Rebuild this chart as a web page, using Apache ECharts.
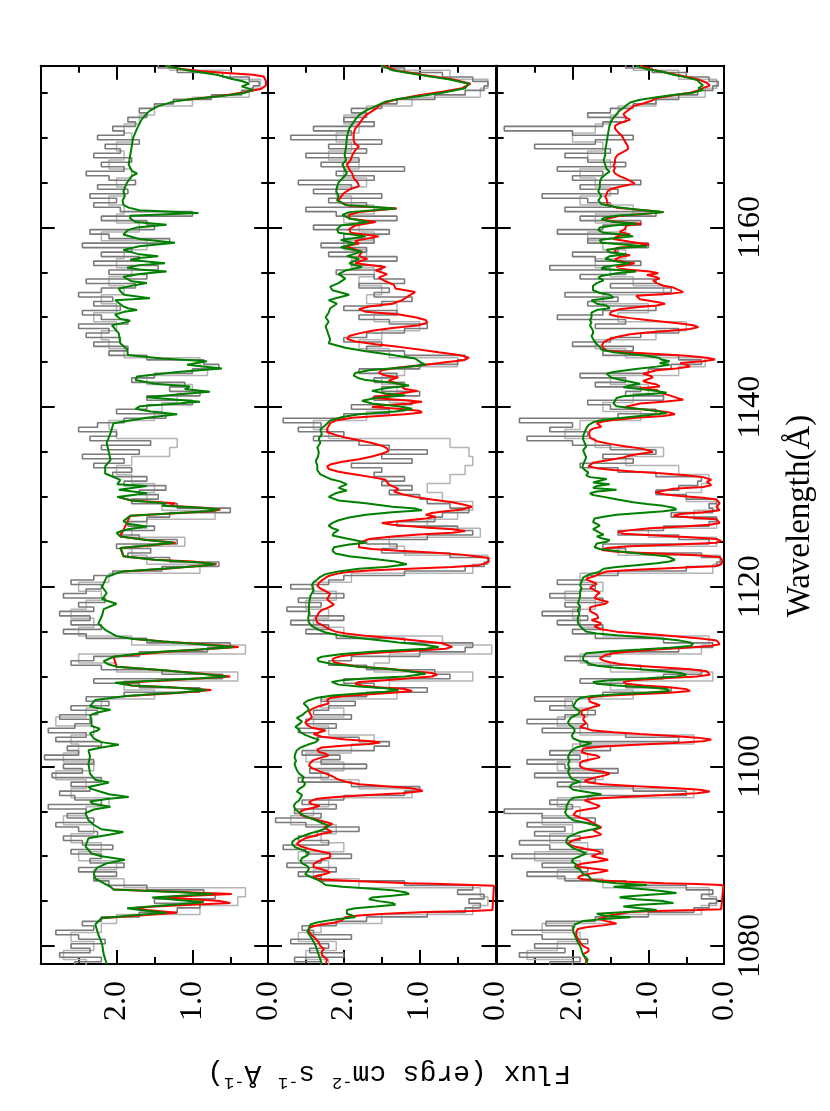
<!DOCTYPE html>
<html>
<head>
<meta charset="utf-8">
<script src="https://cdn.jsdelivr.net/npm/echarts@6/dist/echarts.min.js"></script>
<style>
html, body { margin: 0; padding: 0; background: #fff; }
#chart { width: 830px; height: 1111px; }
</style>
</head>
<body>
<div id="chart"></div>
<script>
// wavelength ticks (Å)
const waveMajor = [1080, 1100, 1120, 1140, 1160];
const waveMinor = [1085, 1090, 1095, 1105, 1110, 1115, 1125, 1130, 1135, 1145, 1150, 1155, 1165, 1170, 1175];

// observed spectra: dark grey bins every 0.5 Å from 1078, light grey bins every 1 Å from 1078
const obsStart = 1078;
const darkStep = 0.5;
const lightStep = 1;

const obsDark1 = [
  2.55, 2.2, 2.75, 2.35, 2.6, 2.15, 2.5, 2.8, 2.3, 2.45,
  2.2, 1.7, 1.2, 0.9, 1.5, 0.7, 0.85, 1.6, 2.1, 2.3,
  2.0, 2.5, 1.9, 2.35, 2.2, 2.6, 2.05, 2.45, 2.7, 2.25,
  2.5, 2.8, 2.3, 2.65, 2.4, 2.9, 2.2, 2.55, 2.75, 2.35,
  2.6, 2.2, 2.85, 2.45, 2.7, 2.3, 2.95, 2.5, 2.65, 2.2,
  2.8, 2.4, 2.9, 2.55, 2.35, 2.75, 2.25, 2.6, 2.1, 2.4,
  1.9, 0.9, 1.7, 2.3, 0.6, 1.4, 2.2, 2.6, 2.3, 1.7,
  0.8, 0.5, 1.6, 2.4, 2.7, 2.2, 2.6, 2.35, 2.75, 2.3,
  2.5, 2.15, 2.7, 2.4, 2.2, 2.6, 2.3, 2.05, 1.4, 0.65,
  1.3, 1.85, 1.55, 2.0, 1.2, 1.7, 1.95, 1.5, 1.85, 1.6,
  1.3, 0.5, 1.2, 1.8, 1.45, 1.7, 1.35, 1.9, 1.6, 2.05,
  1.8, 2.3, 1.9, 2.45, 1.7, 2.2, 1.55, 2.35, 2.0, 2.5,
  2.25, 1.9, 1.35, 2.0, 1.6, 1.0, 1.6, 0.9, 1.3, 1.1,
  1.8, 1.5, 1.0, 0.65, 0.85, 1.6, 2.1, 1.85, 2.3, 1.95,
  2.4, 2.1, 2.5, 1.85, 2.2, 2.45, 1.95, 2.3, 2.05, 2.5,
  2.2, 1.75, 2.4, 1.6, 2.1, 1.45, 2.3, 1.7, 2.2, 1.8,
  2.45, 1.3, 2.1, 2.35, 1.5, 1.6, 2.2, 1.0, 1.95, 2.3,
  2.0, 2.35, 1.85, 2.25, 1.75, 2.1, 2.4, 1.9, 2.2, 1.8,
  2.3, 1.95, 2.15, 1.7, 2.25, 1.9, 2.05, 1.75, 1.85, 1.6,
  1.7, 1.5, 1.25, 0.75, 0.35, 0.2, 0.12, 0.25, 0.6, 1.2,
  1.45
];
const obsLight1 = [
  2.4, 2.7, 2.3, 2.6, 2.2, 2.0, 0.9, 0.4, 0.3, 1.9,
  2.3, 2.0, 2.5, 2.2, 2.6, 2.3, 2.7, 2.4, 2.1, 2.6,
  2.4, 2.8, 2.3, 2.7, 2.5, 2.6, 2.3, 2.8, 2.4, 2.2,
  1.5, 1.9, 0.4, 2.0, 2.5, 0.3, 1.8, 2.5, 2.3, 2.6,
  2.4, 2.2, 2.5, 2.1, 0.9, 1.6, 1.8, 1.1, 1.8, 1.6,
  0.7, 1.4, 1.6, 1.5, 1.8, 2.0, 1.8, 1.3, 1.2, 2.0,
  2.1, 1.5, 1.4, 1.2, 1.0, 1.6, 0.8, 0.9, 1.9, 2.1,
  2.2, 2.0, 2.3, 2.0, 2.2, 1.9, 2.1, 1.8, 2.0, 1.9,
  1.6, 2.2, 1.7, 2.0, 1.9, 2.1, 1.9, 2.0, 1.8, 2.1,
  1.9, 2.0, 1.8, 1.9, 1.7, 1.5, 1.0, 0.25, 0.1, 0.5,
  1.3
];

const obsDark2 = [
  2.3, 2.65, 2.0, 2.45, 2.2, 2.7, 1.9, 2.4, 2.55, 2.1,
  1.7, 0.9, 0.4, 0.2, 0.35, 0.15, 0.5, 0.3, 1.2, 2.3,
  2.6, 2.1, 2.75, 2.3, 1.9, 2.5, 2.8, 2.2, 2.6, 2.35,
  1.8, 2.5, 2.9, 2.3, 2.65, 2.1, 2.55, 2.0, 1.2, 1.0,
  1.9, 2.6, 2.2, 2.45, 1.7, 2.3, 2.05, 2.55, 1.6, 1.4,
  1.8, 2.35, 2.6, 2.1, 2.5, 1.9, 2.4, 2.2, 1.85, 2.3,
  1.7, 0.9, 1.6, 2.0, 0.6, 0.8, 1.7, 2.2, 1.9, 1.0,
  0.4, 0.3, 1.2, 2.1, 2.5, 2.2, 2.7, 2.0, 2.45, 2.75,
  2.3, 2.6, 2.0, 2.4, 2.7, 2.2, 2.0, 1.2, 0.4, 0.15,
  0.1, 0.6, 1.5, 1.3, 1.7, 0.9, 0.3, 0.5, 1.3, 0.8,
  0.7, 0.35, 0.6, 0.9, 1.0, 1.4, 1.1, 1.5, 1.2, 1.6,
  1.5, 1.9, 1.1, 1.5, 0.9, 1.4, 1.8, 2.4, 2.0, 2.6,
  2.3, 2.8, 2.0, 1.4, 1.9, 1.1, 1.6, 1.0, 1.5, 1.2,
  1.6, 1.3, 1.8, 1.0, 0.5, 0.4, 1.2, 1.7, 1.5, 2.0,
  1.7, 1.2, 0.9, 1.4, 1.8, 1.3, 2.0, 1.5, 1.1, 1.6,
  1.4, 1.8, 1.2, 1.6, 2.1, 1.5, 1.9, 1.3, 2.2, 1.7,
  2.3, 1.6, 2.0, 1.4, 2.4, 1.8, 1.3, 2.1, 2.5, 1.7,
  2.2, 1.5, 2.4, 1.9, 2.6, 1.6, 2.1, 1.2, 2.3, 1.8,
  2.5, 1.7, 2.2, 1.5, 2.7, 1.9, 2.4, 1.6, 2.0, 1.7,
  1.9, 1.5, 1.3, 0.8, 0.4, 0.15, 0.1, 0.3, 0.7, 1.2,
  1.5
];
const obsLight2 = [
  2.2, 2.5, 2.1, 2.6, 2.3, 1.5, 0.3, 0.1, 0.2, 1.8,
  2.4, 2.2, 2.6, 2.0, 2.3, 2.1, 2.7, 2.4, 2.2, 1.1,
  1.8, 2.3, 2.0, 2.5, 1.9, 1.6, 2.2, 2.4, 2.0, 2.3,
  1.3, 1.4, 0.3, 1.6, 1.4, 0.05, 0.7, 2.0, 2.4, 2.2,
  2.5, 2.1, 2.4, 1.9, 0.3, 0.1, 1.2, 1.4, 0.2, 0.9,
  0.5, 0.3, 0.7, 0.9, 0.6, 0.4, 0.3, 0.35, 0.6, 2.2,
  2.4, 1.7, 1.2, 1.4, 1.3, 1.5, 1.2, 0.5, 1.4, 1.8,
  1.5, 1.0, 1.6, 1.3, 1.7, 1.5, 1.8, 1.6, 1.9, 1.7,
  2.0, 1.6, 1.8, 2.0, 1.6, 1.9, 2.1, 1.7, 2.0, 1.8,
  2.2, 1.9, 2.1, 1.8, 2.0, 1.7, 1.1, 0.2, 0.1, 0.6,
  1.4
];

const obsDark3 = [
  2.3, 1.9, 2.7, 2.1, 2.5, 1.8, 2.4, 2.8, 2.0, 2.35,
  1.7, 1.0, 0.4, 0.2, 0.1, 0.3, 0.15, 0.5, 1.3, 2.1,
  2.6, 1.8, 2.4, 2.0, 2.8, 1.6, 2.3, 2.7, 1.9, 2.5,
  2.1, 2.6, 1.7, 2.4, 2.9, 2.0, 2.3, 1.8, 0.5, 1.2,
  2.2, 1.7, 2.5, 1.4, 2.1, 2.6, 1.9, 2.3, 1.5, 1.9,
  0.6, 1.3, 2.4, 1.8, 2.6, 2.1, 1.7, 2.3, 2.0, 2.5,
  1.6, 0.7, 1.3, 1.9, 0.8, 0.3, 1.1, 1.8, 2.1, 1.5,
  0.6, 0.15, 0.8, 1.7, 2.0, 1.6, 2.2, 1.8, 2.4, 1.9,
  2.1, 1.6, 2.3, 1.9, 1.7, 2.2, 1.8, 1.4, 0.5, 0.1,
  0.05, 0.3, 1.3, 1.6, 0.2, 0.6, 1.4, 0.8, 0.2, 0.1,
  0.7, 0.15, 0.2, 0.1, 0.5, 0.9, 0.6, 0.35, 0.3, 0.9,
  1.4, 1.9, 1.2, 1.6, 0.9, 1.5, 2.0, 2.6, 1.8, 2.3,
  2.0, 2.7, 1.4, 0.9, 1.5, 1.8, 0.8, 1.3, 1.1, 1.7,
  1.3, 1.9, 1.0, 0.7, 0.3, 0.6, 1.6, 1.2, 2.0, 1.5,
  1.1, 0.6, 1.7, 1.3, 2.2, 1.6, 0.9, 1.8, 1.4, 2.1,
  0.7, 1.5, 0.9, 1.9, 1.3, 2.3, 1.1, 1.7, 2.0, 1.4,
  1.0, 1.8, 1.4, 2.2, 1.6, 1.1, 1.9, 0.9, 2.1, 1.5,
  1.8, 2.4, 1.4, 1.9, 1.1, 2.0, 1.6, 2.2, 1.3, 1.8,
  2.1, 1.5, 2.5, 1.7, 1.2, 2.0, 2.9, 1.6, 1.3, 1.8,
  1.5, 1.2, 0.9, 0.6, 0.35, 0.15, 0.08, 0.2, 0.5, 0.95,
  1.3
];
const obsLight3 = [
  2.0, 2.6, 2.2, 1.9, 2.4, 1.5, 0.3, 0.1, 0.2, 1.6,
  2.2, 1.9, 2.5, 1.8, 2.3, 2.0, 2.4, 1.9, 2.2, 0.4,
  1.9, 1.6, 2.2, 1.8, 2.0, 0.4, 1.9, 2.2, 1.8, 2.1,
  1.2, 1.5, 0.15, 1.5, 1.9, 0.3, 0.2, 1.6, 1.9, 2.0,
  1.7, 2.1, 1.6, 1.9, 0.15, 0.05, 1.4, 0.1, 1.0, 0.1,
  0.4, 0.1, 0.5, 0.3, 0.2, 0.6, 1.3, 0.8, 1.7, 2.1,
  1.9, 1.1, 1.6, 1.2, 1.0, 1.5, 0.6, 0.25, 1.3, 1.7,
  0.9, 0.5, 1.4, 1.0, 1.6, 0.8, 1.2, 1.5, 1.7, 1.3,
  1.6, 1.8, 1.3, 1.7, 1.2, 1.9, 1.5, 1.7, 1.9, 1.5,
  1.8, 1.6, 2.0, 1.7, 1.5, 1.4, 0.9, 0.25, 0.1, 0.6,
  1.2
];

// model fits, [wavelength Å, flux]
const green1 = [
  [1078.0,2.13],[1079.1,2.17],[1080.2,2.19],[1081.3,2.24],[1082.4,2.28],[1083.1,2.2],[1083.4,1.82],[1083.7,1.34],
  [1084.0,1.69],[1084.2,1.86],[1084.4,1.56],[1084.6,1.25],[1084.9,0.85],[1085.1,1.16],[1085.4,1.53],[1085.6,1.16],
  [1085.8,0.73],[1086.0,1.16],[1086.3,2.04],[1086.6,2.08],[1087.0,2.17],[1087.5,2.28],[1088.1,2.30],[1088.7,2.26],
  [1089.2,2.13],[1089.6,1.89],[1090.0,2.2],[1090.3,2.33],[1091.1,2.41],[1092.0,2.37],[1092.4,2.1],[1092.7,1.91],
  [1093.0,2.2],[1093.5,2.30],[1094.0,2.37],[1094.8,2.41],[1095.2,2.3],[1095.5,2.08],[1095.8,2.3],[1096.1,2.35],
  [1096.4,2.1],[1096.6,1.84],[1096.9,2.1],[1097.2,2.22],[1097.5,2.33],[1097.7,2.37],[1098.0,2.2],[1098.2,2.1],
  [1098.5,2.28],[1098.7,2.26],[1099.2,2.35],[1100.3,2.37],[1101.1,2.35],[1101.8,2.37],[1102.1,2.2],[1102.4,1.97],
  [1102.7,2.2],[1103.1,2.30],[1103.7,2.35],[1104.0,2.25],[1104.2,2.22],[1104.5,2.33],[1105.2,2.33],[1105.7,2.35],
  [1106.0,2.25],[1106.3,2.08],[1106.5,2.25],[1106.7,2.35],[1107.4,2.28],[1107.8,1.9],[1108.0,1.60],[1108.2,1.2],
  [1108.5,0.81],[1108.8,1.3],[1109.0,1.8],[1109.3,2.02],[1109.6,1.38],[1109.8,0.9],[1110.0,0.55],[1110.3,0.9],
  [1110.7,1.38],[1111.1,2.0],[1111.4,2.12],[1111.7,2.17],[1112.2,2.04],[1112.5,1.75],[1112.8,1.38],[1113.0,0.9],
  [1113.3,0.46],[1113.6,0.9],[1113.9,1.38],[1114.2,1.8],[1114.5,2.0],[1115.2,2.15],[1115.9,2.24],[1116.8,2.19],
  [1117.5,2.17],[1118.1,2.0],[1118.6,2.19],[1119.3,2.13],[1120.0,2.19],[1121.1,2.13],[1121.5,2.0],[1121.7,1.91],
  [1122.0,1.4],[1122.3,0.9],[1122.5,0.70],[1122.7,0.9],[1123.0,1.5],[1123.4,1.91],[1124.0,1.93],[1124.3,1.95],
  [1124.6,1.6],[1124.9,1.25],[1125.2,1.6],[1125.6,1.95],[1126.0,2.0],[1126.4,1.85],[1126.7,1.60],[1127.0,1.85],
  [1127.3,1.91],[1127.9,1.82],[1128.2,1.2],[1128.4,0.8],[1128.6,0.65],[1128.8,0.9],[1129.0,1.4],[1129.3,1.35],
  [1129.6,1.8],[1130.0,1.99],[1130.4,1.6],[1130.8,1.97],[1131.2,1.6],[1131.4,1.99],[1131.9,1.95],[1132.6,2.15],
  [1133.4,2.15],[1134.1,2.08],[1134.9,2.1],[1136.0,2.13],[1137.1,2.08],[1138.2,2.04],[1138.8,1.6],[1139.2,1.20],
  [1139.5,1.55],[1139.8,1.75],[1140.1,1.69],[1140.4,1.2],[1140.6,0.90],[1140.8,1.2],[1141.1,1.60],[1141.4,1.2],
  [1141.7,0.77],[1142.0,1.1],[1142.3,1.03],[1142.6,1.5],[1143.0,1.75],[1143.4,1.73],[1143.9,1.2],[1144.3,0.61],
  [1144.7,1.07],[1145.1,0.81],[1145.4,1.4],[1145.8,1.85],[1146.4,1.86],[1147.1,1.95],[1148.2,1.97],[1149.1,2.06],
  [1149.4,1.9],[1149.6,1.82],[1149.8,1.95],[1150.3,2.02],[1150.6,1.9],[1150.8,1.73],[1151.0,1.85],[1151.2,1.91],
  [1151.9,2.02],[1152.1,1.56],[1152.5,1.9],[1152.9,1.95],[1153.2,1.97],[1153.5,1.8],[1153.8,1.60],[1154.0,1.8],
  [1154.2,1.82],[1154.5,1.91],[1154.8,1.7],[1155.1,1.34],[1155.3,1.7],[1155.5,1.86],[1155.8,1.7],[1156.0,1.36],
  [1156.2,1.6],[1156.4,1.82],[1156.6,1.7],[1156.8,1.45],[1157.0,1.7],[1157.5,1.91],[1157.9,1.7],[1158.3,1.23],
  [1158.7,1.7],[1159.2,1.91],[1159.7,1.85],[1160.0,1.73],[1160.3,1.34],[1160.6,1.75],[1161.0,1.82],[1161.3,1.82],
  [1161.6,0.92],[1161.9,1.7],[1162.2,1.84],[1162.5,1.91],[1163.0,1.92],[1163.5,1.89],[1164.0,1.91],[1165.0,1.86],
  [1165.7,1.8],[1166.0,1.73],[1166.3,1.8],[1167.0,1.84],[1168.0,1.82],[1169.0,1.80],[1170.0,1.78],[1171.0,1.73],
  [1172.0,1.67],[1172.5,1.62],[1173.0,1.56],[1173.5,1.45],[1174.0,1.25],[1174.2,1.07],[1174.5,0.77],[1174.75,0.5],
  [1175.0,0.3],[1175.3,0.2],[1175.7,0.35],[1176.0,0.25],[1176.3,0.35],[1176.5,0.46],[1177.0,0.68],[1177.5,1.07],
  [1178.0,1.36]
];
// red fit of panel 1 only where it departs from the green one
const red1 = [
  [[1083.1,2.2],[1083.4,1.7],[1083.7,1.2],[1084.0,1.6],[1084.2,1.8],[1084.4,1.5],[1084.6,1.0],[1084.8,0.5],
   [1085.0,0.63],[1085.2,1.0],[1085.4,1.34],[1085.6,1.0],[1085.8,0.48],[1086.0,1.07],[1086.3,2.04]],
  [[1107.8,1.9],[1108.2,1.15],[1108.5,0.75],[1108.8,1.3],[1109.0,1.8],[1109.3,1.93],[1109.6,1.3],[1110.0,0.5],
   [1110.3,0.85],[1110.7,1.38],[1111.1,2.0],[1112.2,2.04],[1112.8,1.3],[1113.3,0.39],[1113.6,0.85],[1113.9,1.38],
   [1114.2,1.8]],
  [[1121.7,1.91],[1122.0,1.35],[1122.5,0.68],[1122.8,1.0],[1123.0,1.5],[1123.4,1.91],[1124.3,1.95],[1124.6,1.55],
   [1124.9,1.22],[1125.2,1.6],[1125.6,1.95],[1127.9,1.82],[1128.2,1.15],[1128.4,0.75],[1128.6,0.63],[1128.8,0.85],
   [1129.0,1.3],[1129.3,1.23],[1129.6,1.8],[1130.0,1.99]],
  [[1174.2,1.07],[1174.5,0.77],[1174.8,0.5],[1175.1,0.28],[1175.4,0.1],[1175.8,0.03],[1176.3,0.03],[1176.8,0.06],
   [1177.0,0.2],[1177.2,0.55],[1177.4,0.9],[1177.7,1.2],[1178.0,1.34]]
];

const green2 = [
  [1078.0,2.29],[1079.0,2.33],[1080.0,2.37],[1080.8,2.42],[1081.6,2.48],[1082.0,2.46],[1082.4,2.44],[1082.6,2.37],
  [1082.8,2.24],[1083.0,2.07],[1083.2,1.85],[1083.4,1.89],[1083.6,1.96],[1083.8,1.98],[1084.0,1.96],[1084.2,1.85],
  [1084.4,1.58],[1084.6,1.32],[1084.8,1.36],[1085.0,1.54],[1085.2,1.67],[1085.4,1.63],[1085.6,1.36],[1085.8,1.14],
  [1086.0,1.19],[1086.2,1.36],[1086.4,1.67],[1086.6,2.02],[1086.8,2.24],[1087.1,2.29],[1087.4,2.35],[1087.7,2.44],
  [1088.0,2.51],[1088.3,2.48],[1088.6,2.46],[1088.9,2.48],[1089.2,2.55],[1089.5,2.57],[1089.8,2.55],[1090.1,2.48],
  [1090.4,2.46],[1090.7,2.55],[1091.0,2.64],[1091.3,2.68],[1091.6,2.68],[1091.9,2.64],[1092.2,2.55],[1092.5,2.46],
  [1092.8,2.33],[1093.1,2.24],[1093.4,2.2],[1093.7,2.29],[1094.0,2.37],[1094.3,2.46],[1094.6,2.55],[1094.9,2.59],
  [1095.2,2.64],[1095.6,2.66],[1095.9,2.64],[1096.2,2.59],[1096.5,2.57],[1096.8,2.55],[1097.2,2.62],[1097.5,2.59],
  [1097.8,2.53],[1098.1,2.51],[1098.4,2.55],[1098.8,2.53],[1099.2,2.59],[1099.6,2.62],[1100.0,2.64],[1100.3,2.65],
  [1100.6,2.63],[1101.0,2.65],[1101.4,2.64],[1101.8,2.62],[1102.1,2.57],[1102.4,2.48],[1102.7,2.37],[1103.0,2.33],
  [1103.2,2.42],[1103.5,2.51],[1103.8,2.57],[1104.1,2.59],[1104.4,2.64],[1104.7,2.59],[1105.0,2.55],[1105.4,2.62],
  [1105.7,2.55],[1106.0,2.51],[1106.3,2.46],[1106.6,2.48],[1107.0,2.53],[1107.3,2.48],[1107.6,2.37],[1107.9,2.15],
  [1108.1,1.80],[1108.3,1.45],[1108.5,1.28],[1108.7,1.45],[1108.9,1.80],[1109.1,2.07],[1109.4,2.16],[1109.6,2.02],
  [1109.8,1.67],[1110.0,1.19],[1110.3,0.92],[1110.6,1.14],[1110.8,1.36],[1111.1,1.80],[1111.4,2.15],[1111.7,2.33],
  [1112.0,2.35],[1112.2,2.29],[1112.5,2.02],[1112.8,1.58],[1113.1,0.92],[1113.3,0.75],[1113.5,0.92],[1113.8,1.28],
  [1114.0,1.5],[1114.3,1.80],[1114.6,2.07],[1114.9,2.24],[1115.2,2.33],[1115.6,2.42],[1116.0,2.46],[1116.5,2.47],
  [1117.0,2.46],[1118.0,2.46],[1118.5,2.45],[1119.0,2.44],[1119.6,2.40],[1120.2,2.42],[1120.5,2.40],[1120.8,2.35],
  [1121.1,2.31],[1121.4,2.24],[1121.7,2.07],[1122.0,1.80],[1122.2,1.45],[1122.5,1.17],[1122.8,1.32],[1123.1,1.63],
  [1123.4,1.93],[1123.7,2.11],[1124.0,2.15],[1124.4,2.13],[1124.7,1.93],[1124.9,1.71],[1125.1,1.80],[1125.4,1.98],
  [1125.7,2.15],[1126.0,2.13],[1126.3,2.07],[1126.5,2.15],[1126.8,2.20],[1127.1,2.15],[1127.4,2.07],[1127.7,1.93],
  [1128.0,1.71],[1128.3,1.36],[1128.5,0.97],[1128.7,1.06],[1128.9,1.36],[1129.3,1.71],[1129.6,2.07],[1130.0,2.20],
  [1130.4,2.11],[1130.7,1.96],[1131.0,2.07],[1131.2,2.02],[1131.4,1.96],[1131.7,2.04],[1132.0,2.18],[1132.5,2.31],
  [1133.0,2.35],[1133.5,2.35],[1134.0,2.37],[1134.5,2.34],[1135.0,2.33],[1135.5,2.35],[1136.0,2.31],[1136.5,2.33],
  [1137.0,2.29],[1137.5,2.31],[1138.0,2.24],[1138.5,2.18],[1138.9,2.02],[1139.2,1.80],[1139.5,1.32],[1139.8,1.10],
  [1140.1,1.28],[1140.4,1.63],[1140.7,1.76],[1141.0,1.58],[1141.3,1.19],[1141.5,1.45],[1141.8,1.63],[1142.1,1.45],
  [1142.4,1.14],[1142.7,1.36],[1143.0,1.71],[1143.2,1.80],[1143.5,1.87],[1143.8,1.85],[1144.1,1.67],[1144.4,1.23],
  [1144.7,0.92],[1145.0,0.99],[1145.4,1.06],[1145.8,1.36],[1146.2,1.71],[1146.6,1.98],[1147.1,2.2],[1147.5,2.18],
  [1148.0,2.2],[1148.5,2.22],[1149.0,2.24],[1149.5,2.2],[1150.0,2.24],[1150.5,2.20],[1151.0,2.18],[1151.5,2.09],
  [1151.9,2.2],[1152.2,2.07],[1152.5,1.93],[1153.0,2.15],[1153.4,2.18],[1153.8,2.07],[1154.3,1.98],[1154.8,2.07],
  [1155.2,1.98],[1155.6,1.76],[1156.0,1.93],[1156.5,1.80],[1156.8,1.96],[1157.3,1.76],[1157.8,2.04],[1158.2,1.85],
  [1158.6,2.04],[1159.0,1.71],[1159.4,2.07],[1159.8,2.09],[1160.2,2.04],[1160.6,1.67],[1161.0,1.93],[1161.4,2.02],
  [1161.7,1.93],[1162.1,1.32],[1162.5,1.98],[1163.0,2.09],[1163.5,2.07],[1164.0,2.10],[1164.5,2.09],[1165.0,2.07],
  [1166.0,1.96],[1167.0,2.02],[1167.5,1.97],[1168.0,1.99],[1169.0,1.97],[1170.0,1.96],[1171.0,1.93],[1172.0,1.85],
  [1172.5,1.80],[1173.0,1.71],[1173.5,1.58],[1174.0,1.45],[1174.3,1.28],[1174.6,1.01],[1175.0,0.70],[1175.5,0.40],
  [1176.0,0.35],[1176.5,0.62],[1177.0,1.01],[1177.5,1.36],[1178.0,1.50]
];
const red2 = [
  [1078.0,2.24],[1078.5,2.22],[1079.0,2.29],[1079.4,2.29],[1079.7,2.26],[1080.0,2.31],[1080.4,2.33],[1080.8,2.37],
  [1081.2,2.42],[1081.6,2.46],[1082.0,2.46],[1082.2,2.40],[1082.4,2.29],[1082.6,2.13],[1082.8,2.04],[1083.0,2.04],
  [1083.2,1.98],[1083.4,1.80],[1083.6,1.45],[1083.8,0.92],[1083.9,0.31],[1084.0,0.04],[1084.1,0.02],[1086.7,0.02],
  [1086.8,0.31],[1086.9,0.70],[1087.0,1.14],[1087.2,1.80],[1087.4,2.29],[1087.6,2.40],[1087.8,2.37],[1088.0,2.26],
  [1088.2,2.18],[1088.4,2.20],[1088.6,2.31],[1088.8,2.40],[1089.1,2.40],[1089.3,2.37],[1089.6,2.29],[1089.9,2.18],
  [1090.1,2.20],[1090.3,2.18],[1090.5,2.29],[1090.8,2.46],[1091.1,2.57],[1091.4,2.62],[1091.7,2.57],[1092.0,2.51],
  [1092.2,2.42],[1092.5,2.29],[1092.7,2.16],[1092.9,2.20],[1093.2,2.26],[1093.6,2.15],[1093.8,2.24],[1094.0,2.33],
  [1094.2,2.42],[1094.4,2.51],[1094.6,2.57],[1094.8,2.59],[1095.0,2.57],[1095.2,2.51],[1095.4,2.40],[1095.6,2.32],
  [1095.8,2.42],[1096.0,2.46],[1096.2,2.42],[1096.4,2.35],[1096.6,2.11],[1096.8,1.67],[1097.0,1.23],[1097.25,0.96],
  [1097.4,1.0],[1097.6,1.14],[1097.8,1.45],[1098.0,1.80],[1098.3,1.98],[1098.6,2.09],[1098.9,2.15],[1099.2,2.24],
  [1099.5,2.33],[1099.8,2.42],[1100.1,2.46],[1100.4,2.44],[1100.7,2.40],[1101.0,2.29],[1101.2,2.20],[1101.4,2.24],
  [1101.6,2.33],[1101.9,2.35],[1102.1,2.29],[1102.3,2.02],[1102.5,1.67],[1102.65,1.52],[1102.8,1.63],[1103.0,1.98],
  [1103.3,2.29],[1103.6,2.40],[1104.0,2.24],[1104.3,2.42],[1104.6,2.48],[1104.9,2.51],[1105.2,2.46],[1105.5,2.42],
  [1105.8,2.44],[1106.1,2.46],[1106.4,2.42],[1106.7,2.33],[1107.0,2.20],[1107.2,2.18],[1107.4,2.22],[1107.6,2.18],
  [1107.8,2.02],[1108.0,1.71],[1108.2,1.36],[1108.4,1.10],[1108.6,1.19],[1108.8,1.54],[1109.0,1.76],[1109.2,1.85],
  [1109.4,1.80],[1109.6,1.45],[1109.8,1.14],[1110.0,0.84],[1110.2,0.77],[1110.4,0.84],[1110.6,1.10],[1110.9,1.45],
  [1111.1,1.80],[1111.4,2.02],[1111.6,2.13],[1111.9,2.15],[1112.1,2.11],[1112.3,2.02],[1112.5,1.80],[1112.7,1.45],
  [1112.9,1.01],[1113.1,0.66],[1113.3,0.57],[1113.5,0.57],[1113.7,0.70],[1113.9,0.92],[1114.2,1.28],[1114.5,1.67],
  [1114.8,1.98],[1115.0,2.11],[1115.3,2.20],[1115.6,2.26],[1116.0,2.35],[1116.5,2.37],[1116.8,2.35],[1117.1,2.33],
  [1117.4,2.29],[1117.7,2.20],[1118.0,2.13],[1118.3,2.18],[1118.6,2.22],[1118.9,2.20],[1119.2,2.18],[1119.5,2.24],
  [1119.8,2.31],[1120.1,2.35],[1120.4,2.33],[1120.7,2.29],[1121.0,2.24],[1121.2,2.20],[1121.4,2.11],[1121.6,1.98],
  [1121.8,1.67],[1122.0,1.14],[1122.2,0.57],[1122.4,0.22],[1122.6,0.13],[1122.8,0.09],[1123.0,0.07],[1123.2,0.09],
  [1123.4,0.26],[1123.6,0.48],[1123.8,0.84],[1124.0,1.28],[1124.2,1.63],[1124.4,1.80],[1124.6,1.78],[1124.9,1.80],
  [1125.1,1.80],[1125.3,1.67],[1125.6,1.36],[1125.8,1.01],[1126.0,0.57],[1126.2,0.40],[1126.4,0.57],[1126.6,0.92],
  [1126.9,1.36],[1127.1,1.50],[1127.3,1.28],[1127.6,0.92],[1127.8,0.79],[1128.0,0.92],[1128.2,0.84],[1128.4,0.66],
  [1128.6,0.44],[1128.9,0.31],[1129.1,0.40],[1129.4,0.57],[1129.7,0.84],[1130.0,1.06],[1130.3,1.23],[1130.6,1.34],
  [1130.9,1.28],[1131.2,1.36],[1131.4,1.41],[1131.6,1.39],[1131.9,1.45],[1132.2,1.63],[1132.5,1.85],[1132.8,2.07],
  [1133.1,2.20],[1133.4,2.22],[1133.6,2.18],[1133.9,2.02],[1134.2,1.80],[1134.5,1.63],[1134.8,1.50],[1135.1,1.41],
  [1135.4,1.43],[1135.7,1.50],[1136.0,1.63],[1136.3,1.80],[1136.6,1.98],[1136.9,2.11],[1137.2,2.22],[1137.6,2.22],
  [1137.9,2.20],[1138.2,2.18],[1138.5,2.11],[1138.8,1.89],[1139.0,1.54],[1139.2,1.19],[1139.4,0.97],[1139.6,1.01],
  [1139.8,1.28],[1140.0,1.63],[1140.2,1.45],[1140.4,1.14],[1140.6,0.97],[1140.8,1.28],[1141.0,1.63],[1141.2,1.54],
  [1141.4,1.36],[1141.6,1.19],[1141.8,1.03],[1142.0,1.19],[1142.2,1.23],[1142.4,1.19],[1142.6,1.28],[1142.9,1.41],
  [1143.1,1.36],[1143.3,1.28],[1143.5,1.45],[1143.8,1.54],[1144.1,1.50],[1144.4,1.28],[1144.7,0.92],[1145.0,0.66],
  [1145.2,0.42],[1145.5,0.35],[1145.8,0.48],[1146.1,0.75],[1146.4,1.01],[1146.7,1.28],[1147.0,1.58],[1147.3,1.85],
  [1147.6,1.96],[1147.9,1.93],[1148.2,1.80],[1148.5,1.63],[1148.8,1.36],[1149.1,1.01],[1149.4,0.90],[1149.7,0.92],
  [1150.0,1.06],[1150.3,1.27],[1150.6,1.71],[1150.9,1.80],[1151.2,1.67],[1151.5,1.36],[1151.9,1.23],[1152.4,1.14],
  [1152.8,1.06],[1153.2,1.32],[1153.6,1.34],[1154.0,1.45],[1154.4,1.54],[1154.8,1.43],[1155.2,1.58],[1155.6,1.45],
  [1156.0,1.85],[1156.2,1.80],[1156.5,1.69],[1156.8,1.80],[1157.3,1.76],[1157.9,1.98],[1158.2,1.80],[1158.5,1.85],
  [1159.0,1.54],[1159.4,1.91],[1159.8,1.93],[1160.2,1.85],[1160.6,1.58],[1161.0,1.93],[1161.4,1.93],[1161.7,1.80],
  [1162.1,1.30],[1162.4,1.93],[1162.7,2.02],[1163.0,2.07],[1163.4,2.04],[1163.8,2.0],[1164.2,1.93],[1164.6,1.80],
  [1165.0,1.82],[1165.5,1.87],[1166.0,1.89],[1166.5,1.93],[1167.0,1.96],[1167.5,1.91],[1168.0,1.89],[1168.6,1.85],
  [1169.0,1.80],[1169.3,1.85],[1169.6,1.87],[1170.0,1.87],[1170.5,1.87],[1171.0,1.85],[1171.5,1.80],[1172.0,1.76],
  [1172.5,1.71],[1173.2,1.58],[1173.8,1.50],[1174.2,1.32],[1174.7,1.01],[1175.1,0.70],[1175.5,0.44],[1176.0,0.33],
  [1176.5,0.57],[1177.0,0.97],[1177.5,1.32],[1178.0,1.47]
];

const green3 = [
  [1078.0,1.82],[1078.5,1.80],[1079.0,1.86],[1079.5,1.88],[1080.0,1.90],[1080.4,1.93],[1080.8,1.95],[1081.2,1.97],
  [1081.6,1.99],[1082.0,1.99],[1082.4,1.97],[1082.6,1.95],[1082.8,1.86],[1083.0,1.59],[1083.2,1.24],[1083.4,1.59],
  [1083.6,1.68],[1083.8,1.29],[1084.0,0.89],[1084.2,1.11],[1084.4,1.33],[1084.6,1.11],[1084.8,0.67],[1085.0,0.80],
  [1085.2,1.16],[1085.4,1.38],[1085.5,1.33],[1085.7,0.98],[1085.9,0.63],[1086.1,0.80],[1086.3,1.02],[1086.6,1.46],
  [1086.8,1.02],[1087.0,1.42],[1087.2,1.68],[1087.4,1.75],[1087.6,1.77],[1087.8,1.79],[1088.0,1.86],[1088.2,1.88],
  [1088.5,1.90],[1088.8,1.97],[1089.1,1.95],[1089.4,2.01],[1089.7,1.99],[1090.0,1.90],[1090.3,1.82],[1090.6,1.90],
  [1090.9,1.99],[1091.2,2.04],[1091.5,2.08],[1091.8,2.08],[1092.1,2.06],[1092.4,1.99],[1092.7,1.90],[1093.0,1.73],
  [1093.2,1.64],[1093.4,1.68],[1093.7,1.82],[1094.0,1.99],[1094.3,2.04],[1094.6,2.08],[1094.9,2.10],[1095.2,2.08],
  [1095.6,2.08],[1095.9,2.06],[1096.2,2.04],[1096.5,1.99],[1096.7,1.77],[1096.9,1.62],[1097.1,1.77],[1097.4,1.99],
  [1097.7,2.04],[1098.0,2.01],[1098.3,1.90],[1098.6,2.01],[1099.0,2.04],[1099.4,2.06],[1099.8,2.04],[1100.2,2.06],
  [1100.6,2.04],[1101.0,2.06],[1101.4,2.04],[1101.8,2.01],[1102.1,1.95],[1102.4,1.82],[1102.6,1.75],[1102.8,1.90],
  [1103.1,1.99],[1103.4,2.01],[1103.7,1.99],[1104.0,1.97],[1104.3,1.99],[1104.6,2.04],[1104.9,2.06],[1105.2,2.04],
  [1105.5,2.01],[1105.8,1.93],[1106.1,1.90],[1106.4,1.95],[1106.7,1.99],[1107.0,1.97],[1107.3,1.95],[1107.6,1.90],
  [1107.8,1.77],[1108.0,1.46],[1108.2,1.02],[1108.4,0.72],[1108.6,0.76],[1108.8,1.02],[1109.0,1.42],[1109.2,1.68],
  [1109.4,1.73],[1109.6,1.51],[1109.8,1.02],[1110.0,0.63],[1110.2,0.50],[1110.4,0.58],[1110.6,0.80],[1110.8,1.11],
  [1111.0,1.46],[1111.2,1.68],[1111.4,1.77],[1111.6,1.79],[1111.8,1.86],[1112.0,1.88],[1112.2,1.86],[1112.4,1.88],
  [1112.6,1.82],[1112.8,1.55],[1113.0,1.11],[1113.2,0.72],[1113.4,0.45],[1113.6,0.41],[1113.8,0.45],[1114.0,0.58],
  [1114.2,0.80],[1114.4,1.11],[1114.6,1.42],[1114.8,1.68],[1115.0,1.82],[1115.3,1.86],[1115.6,1.90],[1116.0,1.93],
  [1116.5,1.93],[1117.0,1.91],[1117.4,1.93],[1117.8,1.90],[1118.2,1.93],[1118.6,1.91],[1119.0,1.90],[1119.4,1.90],
  [1119.8,1.88],[1120.2,1.90],[1120.6,1.88],[1121.0,1.86],[1121.2,1.82],[1121.4,1.77],[1121.6,1.66],[1121.8,1.64],
  [1122.0,1.59],[1122.2,1.42],[1122.4,1.16],[1122.6,0.89],[1122.8,0.72],[1123.0,0.65],[1123.2,0.67],[1123.4,0.76],
  [1123.6,1.02],[1123.8,1.24],[1124.0,1.46],[1124.2,1.64],[1124.4,1.71],[1124.6,1.73],[1124.8,1.68],[1125.0,1.55],
  [1125.2,1.51],[1125.4,1.62],[1125.6,1.68],[1125.8,1.59],[1126.0,1.64],[1126.2,1.68],[1126.4,1.73],[1126.6,1.71],
  [1126.8,1.64],[1127.0,1.68],[1127.2,1.73],[1127.4,1.75],[1127.6,1.71],[1127.8,1.59],[1128.0,1.42],[1128.2,1.11],
  [1128.4,0.80],[1128.6,0.63],[1128.8,0.67],[1129.0,0.80],[1129.2,1.02],[1129.4,1.20],[1129.6,1.33],[1129.8,1.46],
  [1130.0,1.59],[1130.2,1.73],[1130.4,1.77],[1130.6,1.68],[1130.8,1.42],[1131.0,1.73],[1131.2,1.68],[1131.4,1.51],
  [1131.6,1.73],[1131.8,1.75],[1132.0,1.55],[1132.2,1.77],[1132.4,1.82],[1132.7,1.79],[1133.0,1.84],[1133.3,1.87],
  [1133.6,1.86],[1134.0,1.84],[1134.4,1.82],[1134.8,1.84],[1135.2,1.86],[1135.6,1.82],[1136.0,1.84],[1136.4,1.86],
  [1136.8,1.86],[1137.2,1.84],[1137.6,1.82],[1138.0,1.79],[1138.3,1.73],[1138.5,1.64],[1138.7,1.46],[1138.9,1.24],
  [1139.1,1.02],[1139.3,0.76],[1139.5,0.85],[1139.7,1.02],[1139.9,1.24],[1140.1,1.42],[1140.4,1.46],[1140.7,1.44],
  [1141.0,1.42],[1141.2,1.33],[1141.4,1.07],[1141.6,0.76],[1141.8,0.89],[1142.0,1.11],[1142.2,1.33],[1142.4,1.24],
  [1142.6,1.11],[1142.9,1.29],[1143.1,1.40],[1143.3,1.49],[1143.5,1.51],[1143.7,1.55],[1143.9,1.46],[1144.1,1.29],
  [1144.3,1.11],[1144.5,0.89],[1144.7,0.72],[1144.9,0.85],[1145.1,0.72],[1145.3,0.83],[1145.5,0.87],[1145.7,1.02],
  [1145.9,1.24],[1146.1,1.46],[1146.4,1.62],[1146.7,1.64],[1147.0,1.68],[1147.3,1.71],[1147.6,1.73],[1147.9,1.75],
  [1148.2,1.73],[1148.5,1.73],[1148.8,1.75],[1149.1,1.77],[1149.4,1.75],[1149.7,1.77],[1150.0,1.75],[1150.2,1.77],
  [1150.5,1.75],[1150.8,1.68],[1151.0,1.51],[1151.3,1.55],[1151.5,1.68],[1151.9,1.75],[1152.2,1.46],[1152.5,1.51],
  [1152.7,1.64],[1153.0,1.73],[1153.2,1.75],[1153.5,1.73],[1153.8,1.68],[1154.1,1.59],[1154.4,1.66],[1154.6,1.62],
  [1154.9,1.42],[1155.1,1.16],[1155.4,1.62],[1155.6,1.59],[1155.8,1.42],[1156.0,1.24],[1156.2,1.42],[1156.5,1.57],
  [1156.8,1.51],[1157.0,1.29],[1157.2,1.51],[1157.5,1.55],[1157.7,1.38],[1157.9,1.02],[1158.1,1.33],[1158.3,1.62],
  [1158.6,1.64],[1158.8,1.46],[1159.0,1.20],[1159.2,1.33],[1159.4,1.59],[1159.7,1.66],[1160.0,1.64],[1160.2,1.46],
  [1160.4,1.15],[1160.6,1.46],[1160.9,1.62],[1161.1,1.57],[1161.3,1.42],[1161.5,1.07],[1161.7,0.80],[1161.8,0.89],
  [1162.0,1.16],[1162.3,1.46],[1162.6,1.62],[1163.0,1.66],[1163.2,1.64],[1163.5,1.62],[1164.0,1.66],[1164.5,1.64],
  [1165.0,1.64],[1165.5,1.62],[1166.0,1.55],[1166.2,1.51],[1166.5,1.55],[1167.0,1.57],[1167.5,1.59],[1168.0,1.57],
  [1168.5,1.57],[1169.0,1.56],[1169.5,1.55],[1170.0,1.54],[1170.5,1.53],[1171.0,1.52],[1171.4,1.51],[1171.8,1.49],
  [1172.2,1.46],[1172.6,1.42],[1173.0,1.38],[1173.3,1.33],[1173.6,1.29],[1173.9,1.24],[1174.2,1.11],[1174.5,0.89],
  [1174.8,0.63],[1175.0,0.41],[1175.3,0.28],[1175.5,0.34],[1175.8,0.28],[1176.1,0.32],[1176.4,0.36],[1176.7,0.50],
  [1177.0,0.67],[1177.3,0.80],[1177.6,1.02],[1178.0,1.16]
];
const red3 = [
  [1078.0,1.82],[1078.4,1.82],[1078.8,1.84],[1079.1,1.86],[1079.4,1.79],[1079.7,1.79],[1080.0,1.86],[1080.4,1.90],
  [1080.8,1.93],[1081.2,1.95],[1081.6,1.95],[1081.9,1.93],[1082.1,1.82],[1082.3,1.60],[1082.5,1.42],[1082.6,1.42],
  [1082.8,1.57],[1083.0,1.66],[1083.2,1.64],[1083.4,1.51],[1083.6,1.38],[1083.8,1.24],[1083.9,0.89],[1084.0,0.36],
  [1084.1,0.04],[1086.7,0.01],[1086.8,0.04],[1086.9,0.36],[1087.0,0.80],[1087.2,1.42],[1087.4,1.86],[1087.6,1.93],
  [1087.8,1.90],[1088.0,1.82],[1088.2,1.64],[1088.4,1.53],[1088.6,1.71],[1088.8,1.90],[1089.0,1.95],[1089.2,1.86],
  [1089.4,1.66],[1089.6,1.53],[1089.8,1.64],[1090.0,1.75],[1090.2,1.68],[1090.4,1.62],[1090.6,1.68],[1090.8,1.82],
  [1091.1,1.99],[1091.4,2.06],[1091.7,2.01],[1092.0,1.90],[1092.2,1.73],[1092.4,1.62],[1092.6,1.66],[1092.9,1.73],
  [1093.2,1.62],[1093.4,1.64],[1093.6,1.71],[1093.8,1.75],[1094.0,1.79],[1094.2,1.86],[1094.4,1.93],[1094.6,1.99],
  [1094.8,2.01],[1095.0,1.95],[1095.2,1.82],[1095.4,1.68],[1095.6,1.64],[1095.8,1.71],[1096.0,1.77],[1096.2,1.84],
  [1096.4,1.73],[1096.6,1.33],[1096.8,0.80],[1097.0,0.36],[1097.2,0.19],[1097.4,0.32],[1097.6,0.67],[1097.8,1.16],
  [1098.0,1.60],[1098.2,1.79],[1098.4,1.84],[1098.6,1.77],[1098.8,1.68],[1099.0,1.57],[1099.2,1.51],[1099.4,1.60],
  [1099.6,1.75],[1099.8,1.86],[1100.0,1.90],[1100.2,1.91],[1100.4,1.90],[1100.6,1.86],[1100.8,1.75],[1101.0,1.64],
  [1101.2,1.68],[1101.4,1.82],[1101.6,1.88],[1101.8,1.90],[1102.0,1.86],[1102.2,1.60],[1102.4,1.16],[1102.6,0.67],
  [1102.8,0.28],[1103.0,0.17],[1103.2,0.36],[1103.4,0.72],[1103.6,1.11],[1103.8,1.46],[1104.0,1.73],[1104.2,1.82],
  [1104.4,1.90],[1104.6,1.86],[1104.8,1.82],[1105.0,1.84],[1105.2,1.86],[1105.4,1.86],[1105.6,1.84],[1105.8,1.88],
  [1106.0,1.90],[1106.2,1.88],[1106.4,1.86],[1106.6,1.73],[1106.8,1.64],[1107.0,1.66],[1107.2,1.77],[1107.4,1.79],
  [1107.6,1.79],[1107.8,1.68],[1108.0,1.24],[1108.2,0.72],[1108.4,0.45],[1108.6,0.50],[1108.8,0.72],[1109.0,1.07],
  [1109.2,1.29],[1109.4,1.33],[1109.6,1.20],[1109.8,0.80],[1110.0,0.36],[1110.2,0.19],[1110.4,0.17],[1110.6,0.23],
  [1110.8,0.45],[1111.0,0.80],[1111.2,1.16],[1111.4,1.38],[1111.6,1.51],[1111.8,1.60],[1112.0,1.64],[1112.2,1.64],
  [1112.4,1.57],[1112.6,1.46],[1112.8,1.24],[1113.0,0.89],[1113.2,0.50],[1113.4,0.19],[1113.6,0.06],[1113.8,0.04],
  [1114.0,0.10],[1114.2,0.28],[1114.4,0.54],[1114.6,0.80],[1114.8,1.11],[1115.0,1.42],[1115.3,1.64],[1115.6,1.71],
  [1115.9,1.62],[1116.1,1.68],[1116.3,1.75],[1116.5,1.66],[1116.7,1.64],[1116.9,1.68],[1117.1,1.73],[1117.3,1.77],
  [1117.5,1.79],[1117.7,1.77],[1117.9,1.68],[1118.1,1.57],[1118.3,1.53],[1118.5,1.62],[1118.7,1.71],[1118.9,1.73],
  [1119.1,1.68],[1119.3,1.64],[1119.5,1.66],[1119.7,1.73],[1119.9,1.77],[1120.1,1.73],[1120.3,1.68],[1120.5,1.73],
  [1120.7,1.79],[1120.9,1.82],[1121.1,1.73],[1121.3,1.68],[1121.5,1.62],[1121.7,1.55],[1121.9,1.16],[1122.1,0.59],
  [1122.3,0.10],[1122.5,0.04],[1122.7,0.02],[1122.9,0.02],[1123.1,0.02],[1123.3,0.06],[1123.5,0.36],[1123.7,0.89],
  [1123.9,1.42],[1124.1,1.62],[1124.3,1.55],[1124.5,1.24],[1124.7,0.63],[1124.9,0.10],[1125.1,0.04],[1125.3,0.10],
  [1125.5,0.45],[1125.7,0.89],[1125.9,1.33],[1126.1,1.40],[1126.3,1.24],[1126.5,0.98],[1126.7,0.54],[1126.9,0.19],
  [1127.1,0.06],[1127.3,0.04],[1127.5,0.10],[1127.7,0.45],[1127.9,0.67],[1128.1,0.58],[1128.3,0.28],[1128.5,0.06],
  [1128.7,0.04],[1128.9,0.10],[1129.1,0.10],[1129.3,0.06],[1129.5,0.04],[1129.7,0.10],[1129.9,0.28],[1130.1,0.58],
  [1130.3,0.80],[1130.5,0.91],[1130.7,0.89],[1130.9,0.67],[1131.1,0.28],[1131.3,0.17],[1131.5,0.19],[1131.7,0.23],
  [1131.9,0.17],[1132.1,0.19],[1132.2,0.28],[1132.4,0.50],[1132.6,0.80],[1132.8,1.16],[1133.0,1.46],[1133.2,1.68],
  [1133.4,1.79],[1133.6,1.77],[1133.8,1.73],[1134.0,1.60],[1134.2,1.46],[1134.4,1.33],[1134.6,1.24],[1134.8,1.11],
  [1135.0,0.94],[1135.2,1.00],[1135.4,1.11],[1135.6,1.29],[1135.9,1.51],[1136.2,1.68],[1136.6,1.77],[1137.0,1.78],
  [1137.4,1.77],[1137.6,1.73],[1137.8,1.62],[1138.0,1.62],[1138.2,1.68],[1138.4,1.60],[1138.6,1.42],[1138.8,1.16],
  [1139.0,0.80],[1139.2,0.65],[1139.4,0.72],[1139.6,0.89],[1139.8,1.16],[1140.0,1.31],[1140.2,1.29],[1140.4,1.11],
  [1140.6,0.80],[1140.8,0.54],[1141.0,0.56],[1141.3,0.72],[1141.6,0.85],[1141.9,0.89],[1142.1,1.11],[1142.3,0.85],
  [1142.5,0.89],[1142.7,1.00],[1142.9,1.07],[1143.1,1.05],[1143.3,0.94],[1143.5,0.98],[1143.7,1.07],[1143.9,1.05],
  [1144.1,0.89],[1144.3,0.63],[1144.5,0.45],[1144.7,0.50],[1144.9,0.58],[1145.1,0.28],[1145.3,0.12],[1145.5,0.23],
  [1145.7,0.50],[1145.9,0.89],[1146.1,1.33],[1146.3,1.55],[1146.6,1.60],[1146.9,1.61],[1147.2,1.59],[1147.5,1.53],
  [1147.8,1.42],[1148.1,1.24],[1148.3,1.02],[1148.5,0.72],[1148.7,0.45],[1148.9,0.34],[1149.1,0.41],[1149.3,0.58],
  [1149.5,0.80],[1149.7,1.02],[1149.9,1.24],[1150.1,1.42],[1150.3,1.51],[1150.6,1.49],[1150.9,1.38],[1151.1,1.16],
  [1151.3,0.89],[1151.5,0.78],[1151.7,0.89],[1152.0,1.11],[1152.2,1.11],[1152.4,1.16],[1152.6,0.72],[1152.8,0.54],
  [1153.0,0.52],[1153.3,0.67],[1153.5,0.80],[1153.8,0.89],[1154.1,0.94],[1154.3,0.85],[1154.5,0.91],[1154.7,1.02],
  [1154.9,0.87],[1155.1,0.98],[1155.3,1.29],[1155.6,1.42],[1155.8,1.29],[1156.0,1.18],[1156.1,1.29],[1156.4,1.44],
  [1156.7,1.38],[1156.9,1.24],[1157.1,1.42],[1157.4,1.44],[1157.7,1.42],[1157.9,1.16],[1158.1,0.99],[1158.4,1.24],
  [1158.7,1.46],[1159.0,1.42],[1159.2,1.24],[1159.5,1.38],[1159.8,1.31],[1160.0,1.33],[1160.2,1.29],[1160.4,1.09],
  [1160.6,1.42],[1160.8,1.57],[1161.0,1.53],[1161.3,1.38],[1161.5,1.07],[1161.7,0.80],[1162.0,1.16],[1162.2,1.42],
  [1162.5,1.54],[1162.8,1.54],[1163.1,1.55],[1163.4,1.57],[1163.7,1.55],[1164.0,1.54],[1164.3,1.49],[1164.6,1.33],
  [1164.9,1.18],[1165.1,1.18],[1165.4,1.29],[1165.7,1.38],[1166.0,1.44],[1166.3,1.46],[1166.6,1.44],[1166.9,1.46],
  [1167.2,1.44],[1167.5,1.44],[1167.8,1.43],[1168.1,1.40],[1168.4,1.33],[1168.7,1.27],[1169.0,1.27],[1169.3,1.29],
  [1169.6,1.31],[1169.9,1.33],[1170.2,1.35],[1170.6,1.40],[1171.0,1.44],[1171.3,1.44],[1171.6,1.38],[1172.0,1.24],
  [1172.2,1.29],[1172.6,1.33],[1172.9,1.29],[1173.2,1.24],[1173.5,1.20],[1173.8,1.07],[1174.1,0.96],[1174.4,0.89],
  [1174.7,0.67],[1175.0,0.45],[1175.3,0.32],[1175.5,0.28],[1175.8,0.19],[1176.1,0.23],[1176.4,0.32],[1176.7,0.45],
  [1177.0,0.63],[1177.3,0.80],[1177.6,0.98],[1178.0,1.11]
];

// histogram bins -> [flux, wavelength] corner points
function binSteps(vals, step) {
  const out = [];
  vals.forEach((v, i) => {
    const w = obsStart + i * step;
    out.push([v, w - step / 2], [v, w + step / 2]);
  });
  return out;
}
// [wavelength, flux] -> [flux, wavelength] (flux runs across, wavelength runs up)
function swap(pts) { return pts.map(p => [p[1], p[0]]); }
function joinSegments(segs) {
  const out = [];
  segs.forEach((s, i) => {
    if (i > 0) out.push(['-', '-']);
    swap(s).forEach(p => out.push(p));
  });
  return out;
}

const panels = [
  { left: 40.7, dark: obsDark1, light: obsLight1, red: joinSegments(red1), green: swap(green1) },
  { left: 268, dark: obsDark2, light: obsLight2, red: swap(red2), green: swap(green2) },
  { left: 496.7, dark: obsDark3, light: obsLight3, red: swap(red3), green: swap(green3) }
];
const plotTop = 65.7, plotH = 898.3, panelW = 227.5;

const black = { color: '#000', width: 2 };
const tickFont = { fontFamily: 'Liberation Serif', fontSize: 32, color: '#000' };

const grids = [], xAxes = [], yAxes = [], series = [];
panels.forEach((p, i) => {
  grids.push({ left: p.left, top: plotTop, width: panelW, height: plotH, outerBoundsMode: 'none' });
  ['bottom', 'top'].forEach(pos => {
    xAxes.push({
      gridIndex: i, type: 'value', position: pos, inverse: true,
      min: 0, max: 3, interval: 1,
      axisLine: { show: true, onZero: false, lineStyle: black },
      axisTick: { show: true, inside: true, length: 14, lineStyle: black },
      minorTick: { show: true, splitNumber: 2, length: 7, lineStyle: black },
      splitLine: { show: false }, minorSplitLine: { show: false },
      axisLabel: Object.assign({
        show: pos === 'bottom', rotate: 90, margin: 17,
        formatter: v => (v === 3 ? '' : v.toFixed(1))
      }, tickFont)
    });
  });
  ['left', 'right'].forEach(pos => {
    const labelled = pos === 'right' && i === 2;
    yAxes.push({
      gridIndex: i, type: 'value', position: pos, min: 1078, max: 1178,
      axisLine: { show: true, onZero: false, lineStyle: black },
      axisTick: { show: true, inside: true, length: 14, customValues: waveMajor, lineStyle: black },
      splitLine: { show: false },
      axisLabel: Object.assign({
        show: labelled, customValues: waveMajor, rotate: 90, margin: 10,
        formatter: v => String(v)
      }, tickFont)
    });
    yAxes.push({
      gridIndex: i, type: 'value', position: pos, min: 1078, max: 1178,
      axisLine: { show: false, onZero: false },
      axisTick: { show: true, inside: true, length: 7, customValues: waveMinor, lineStyle: black },
      splitLine: { show: false }, axisLabel: { show: false }
    });
  });
  const common = { type: 'line', xAxisIndex: 2 * i, yAxisIndex: 4 * i, showSymbol: false, symbol: 'none', silent: true, clip: true };
  series.push(Object.assign({ data: binSteps(p.light, lightStep), lineStyle: { color: '#b4b4b4', width: 1.5 } }, common));
  series.push(Object.assign({ data: binSteps(p.dark, darkStep), lineStyle: { color: '#7a7a7a', width: 1.6 } }, common));
  series.push(Object.assign({ data: p.red, lineStyle: { color: '#ff0000', width: 2 } }, common));
  series.push(Object.assign({ data: p.green, lineStyle: { color: '#008000', width: 2 } }, common));
});

const chart = echarts.init(document.getElementById('chart'), null, { renderer: 'canvas' });
chart.setOption({
  animation: false,
  backgroundColor: '#fff',
  grid: grids,
  xAxis: xAxes,
  yAxis: yAxes,
  series: series,
  graphic: [
    {
      type: 'text', x: 800, y: 516, rotation: Math.PI / 2,
      style: { text: 'Wavelength(Å)', fontFamily: 'Liberation Serif', fontSize: 33, fill: '#000', align: 'center', verticalAlign: 'middle' }
    },
    {
      type: 'text', x: 389, y: 1073, rotation: Math.PI,
      style: {
        text: '{m|Flux (ergs cm}{s|-2}{m| s}{s|-1}{m| Å}{s|-1}{m|)}',
        align: 'center', verticalAlign: 'middle',
        rich: {
          m: { fontFamily: 'Liberation Mono', fontSize: 28, lineHeight: 36, fill: '#000', verticalAlign: 'middle' },
          s: { fontFamily: 'Liberation Mono', fontSize: 17, fill: '#000', verticalAlign: 'top' }
        }
      }
    }
  ]
});
</script>
</body>
</html>
